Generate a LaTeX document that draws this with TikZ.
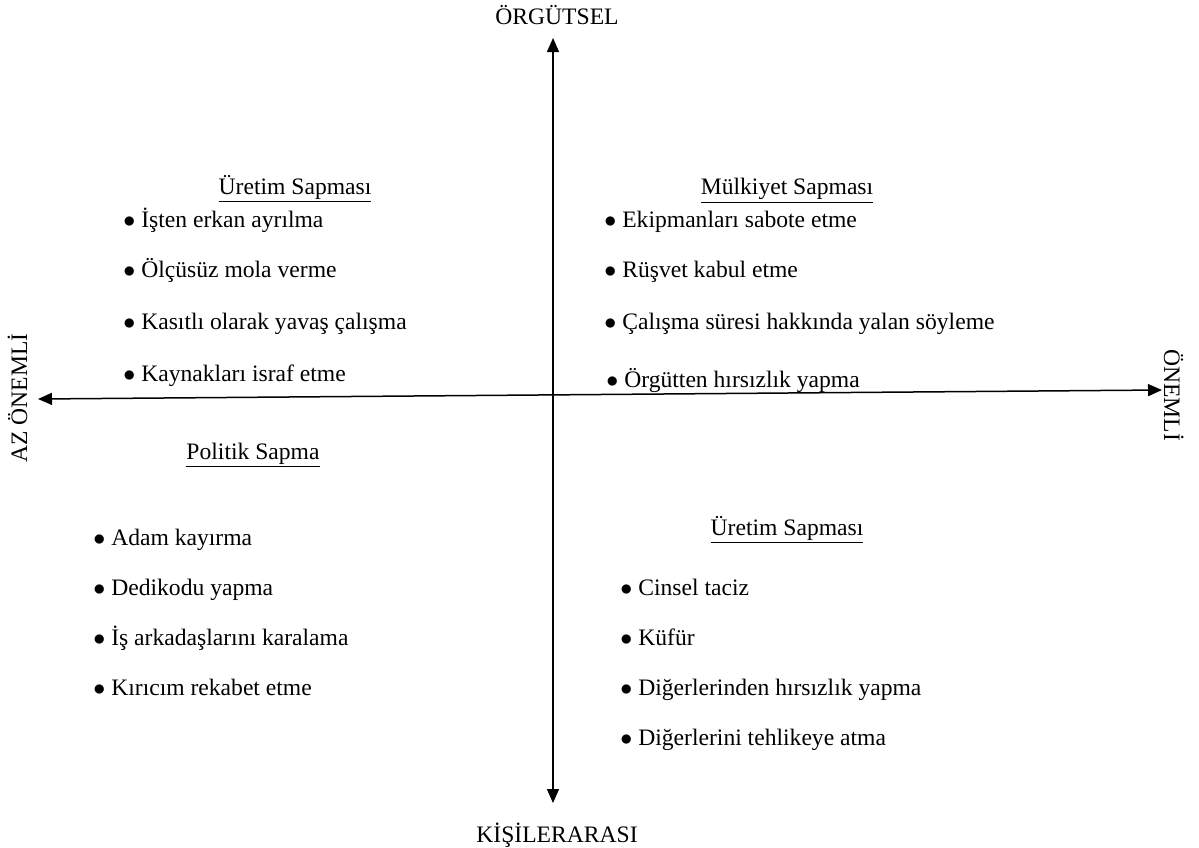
\documentclass[tikz,border=0pt]{standalone}
\usepackage{fontspec}
\setmainfont{Liberation Serif}
\usetikzlibrary{arrows.meta}
\begin{document}
\begin{tikzpicture}[x=0.5pt,y=-0.5pt,
  every node/.style={font=\fontsize{11.8}{14}\selectfont, inner sep=0pt},
  axis/.style={line width=0.75pt, {Triangle[length=7pt,width=6pt]}-{Triangle[length=7pt,width=6pt]}},
  heading/.style={anchor=base},
  item/.style={anchor=base west}]
\useasboundingbox (0,0) rectangle (1199,847);
\fill[white] (0,0) rectangle (1199,847);

% axis ends
\coordinate (top) at (553,38);
\coordinate (bottom) at (553,803);
\coordinate (left) at (38,399);
\coordinate (right) at (1162,390);

\draw[axis] (top) -- (bottom);
\draw[axis] (left) -- (right);

% axis labels
\node[anchor=base] (org) at (557,24) {ÖRGÜTSEL};
\node[anchor=base] (kis) at (557,842) {KİŞİLERARASI};
\node[anchor=base, rotate=90] (az) at (27,398) {AZ ÖNEMLİ};
\node[anchor=base, rotate=-90] (onemli) at (1164,395) {ÖNEMLİ};

% upper left: production deviance
\node[heading] (h1) at (295,194) {\underline{Üretim Sapması}};
\node[item] (a1) at (123,227) {$\bullet$ İşten erkan ayrılma};
\node[item] (a2) at (123,277) {$\bullet$ Ölçüsüz mola verme};
\node[item] (a3) at (123,329) {$\bullet$ Kasıtlı olarak yavaş çalışma};
\node[item] (a4) at (123,381) {$\bullet$ Kaynakları israf etme};

% upper right: property deviance
\node[heading] (h2) at (787,194) {\underline{Mülkiyet Sapması}};
\node[item] (b1) at (604,227) {$\bullet$ Ekipmanları sabote etme};
\node[item] (b2) at (604,277) {$\bullet$ Rüşvet kabul etme};
\node[item] (b3) at (604,329) {$\bullet$ Çalışma süresi hakkında yalan söyleme};
\node[item] (b4) at (606,387) {{\large$\bullet$} Örgütten hırsızlık yapma};

% lower left: political deviance
\node[heading] (h3) at (253,459) {\underline{Politik Sapma}};
\node[item] (c1) at (93,545) {$\bullet$ Adam kayırma};
\node[item] (c2) at (93,595) {$\bullet$ Dedikodu yapma};
\node[item] (c3) at (93,645) {$\bullet$ İş arkadaşlarını karalama};
\node[item] (c4) at (93,695) {$\bullet$ Kırıcım rekabet etme};

% lower right
\node[heading] (h4) at (787,535) {\underline{Üretim Sapması}};
\node[item] (d1) at (620,595) {$\bullet$ Cinsel taciz};
\node[item] (d2) at (620,645) {$\bullet$ Küfür};
\node[item] (d3) at (620,695) {$\bullet$ Diğerlerinden hırsızlık yapma};
\node[item] (d4) at (620,745) {$\bullet$ Diğerlerini tehlikeye atma};
\end{tikzpicture}
\end{document}
